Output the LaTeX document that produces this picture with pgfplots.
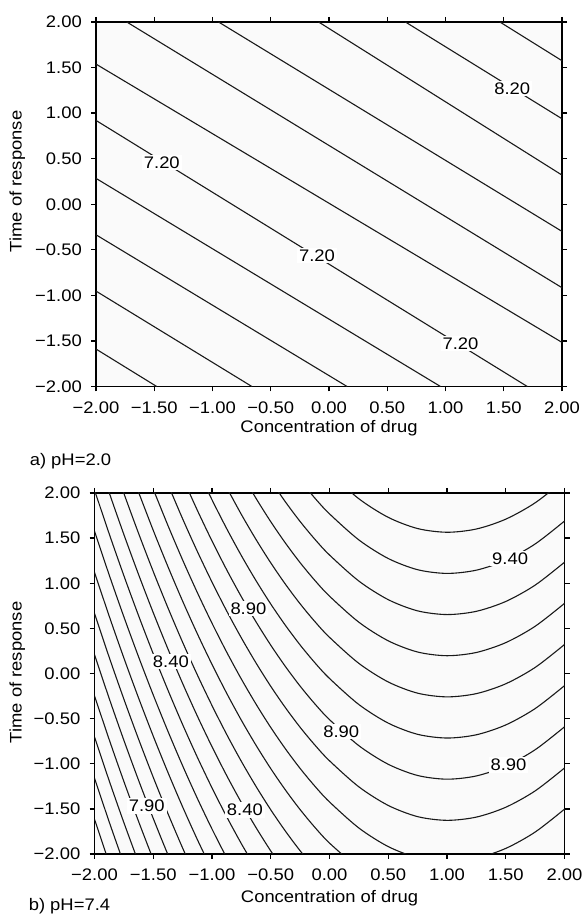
\documentclass[border=0pt]{standalone}
\usepackage{fontspec}
\setmainfont{Liberation Sans}[FakeStretch=1.1]
\usepackage{pgfplots}
\pgfplotsset{compat=1.18}
\pgfplotsset{
  cplot/.style={
    scale only axis,
    xmin=-2, xmax=2, ymin=-2, ymax=2,
    xtick={-2,-1.5,-1,-0.5,0,0.5,1,1.5,2},
    ytick={-2,-1.5,-1,-0.5,0,0.5,1,1.5,2},
    xticklabels={−2.00,−1.50,−1.00,−0.50,0.00,0.50,1.00,1.50,2.00},
    yticklabels={−2.00,−1.50,−1.00,−0.50,0.00,0.50,1.00,1.50,2.00},
    tick align=outside,
    major tick length=5bp,
    axis line style={line width=1.7bp},
    every tick/.style={black, line width=1.3bp},
    xticklabel style={anchor=north, inner sep=0pt, yshift=-10bp},
    yticklabel style={anchor=east, inner sep=0pt, xshift=-9bp},
    tick label style={font=\fontsize{16.8}{19}\selectfont},
    axis background/.style={fill=black!2},
  },
  cline/.style={black!90, line width=1.1bp, smooth, tension=0.5, mark=none},
}
\tikzset{clab/.style={fill=white, inner sep=1.8bp, font=\fontsize{16.8}{19}\selectfont}}
\begin{document}
\fontsize{16.8}{19}\selectfont
\begin{tikzpicture}
\path[use as bounding box] (0,0) rectangle (585bp,921bp);

% ---------------- a) pH = 2.0 ----------------
\begin{axis}[cplot, at={(96bp,534.5bp)}, anchor=south west, width=466bp, height=364.5bp]
\addplot[cline] coordinates {(1.467,2) (2,1.575)};
\addplot[cline] coordinates {(0.656,2) (2,0.938)};
\addplot[cline] coordinates {(-0.089,2) (2,0.320)};
\addplot[cline] coordinates {(-0.948,2) (2,-0.298)};
\addplot[cline] coordinates {(-1.736,2) (2,-0.916)};
\addplot[cline] coordinates {(-2,1.538) (2,-1.516)};
\addplot[cline] coordinates {(-2,0.920) (1.702,-2)};
\addplot[cline] coordinates {(-2,0.284) (0.957,-2)};
\addplot[cline] coordinates {(-2,-0.335) (0.155,-2)};
\addplot[cline] coordinates {(-2,-0.953) (-0.662,-2)};
\addplot[cline] coordinates {(-2,-1.589) (-1.479,-2)};
\node[clab] at (axis cs:-1.435,0.46) {7.20};
\node[clab] at (axis cs:-0.103,-0.565) {7.20};
\node[clab] at (axis cs:1.129,-1.53) {7.20};
\node[clab] at (axis cs:1.573,1.27) {8.20};
\end{axis}
\node[anchor=base] at (329bp,488bp) {Concentration of drug};
\node[anchor=base west] at (24bp,455bp) {a) pH=2.0};
\node[rotate=90, anchor=base] at (21.5bp,739.5bp) {Time of response};

% ---------------- b) pH = 7.4 ----------------
\begin{axis}[cplot, at={(94.5bp,67bp)}, anchor=south west, width=470bp, height=361bp]
\addplot[cline] coordinates {(0,2.225) (0.25,1.936) (0.5,1.730) (0.75,1.606) (1,1.565) (1.25,1.601) (1.5,1.710) (1.75,1.891) (2,2.145)};
\addplot[cline] coordinates {(-0.25,2.140) (-0.125,1.944) (0,1.769) (0.25,1.480) (0.5,1.274) (0.75,1.150) (1,1.109) (1.25,1.145) (1.5,1.254) (1.75,1.435) (2,1.689)};
\addplot[cline] coordinates {(-0.5,2.138) (-0.375,1.901) (-0.25,1.684) (-0.125,1.488) (0,1.313) (0.25,1.024) (0.5,0.818) (0.75,0.694) (1,0.653) (1.25,0.689) (1.5,0.798) (1.75,0.979) (2,1.233)};
\addplot[cline] coordinates {(-0.75,2.218) (-0.625,1.940) (-0.5,1.682) (-0.375,1.445) (-0.25,1.228) (-0.125,1.032) (0,0.857) (0.25,0.568) (0.5,0.362) (0.75,0.238) (1,0.197) (1.25,0.233) (1.5,0.342) (1.75,0.523) (2,0.777)};
\addplot[cline] coordinates {(-0.875,2.061) (-0.75,1.762) (-0.625,1.484) (-0.5,1.226) (-0.375,0.989) (-0.25,0.772) (-0.125,0.576) (0,0.401) (0.25,0.112) (0.5,-0.094) (0.75,-0.218) (1,-0.259) (1.25,-0.223) (1.5,-0.114) (1.75,0.067) (2,0.321)};
\addplot[cline] coordinates {(-1.125,2.265) (-1,1.925) (-0.875,1.605) (-0.75,1.306) (-0.625,1.028) (-0.5,0.770) (-0.375,0.533) (-0.25,0.316) (-0.125,0.120) (0,-0.055) (0.25,-0.344) (0.5,-0.550) (0.75,-0.674) (1,-0.715) (1.25,-0.679) (1.5,-0.570) (1.75,-0.389) (2,-0.135)};
\addplot[cline] coordinates {(-1.25,2.170) (-1.125,1.809) (-1,1.469) (-0.875,1.149) (-0.75,0.850) (-0.625,0.572) (-0.5,0.314) (-0.375,0.077) (-0.25,-0.140) (-0.125,-0.336) (0,-0.511) (0.25,-0.800) (0.5,-1.006) (0.75,-1.130) (1,-1.171) (1.25,-1.135) (1.5,-1.026) (1.75,-0.845) (2,-0.591)};
\addplot[cline] coordinates {(-1.375,2.096) (-1.25,1.714) (-1.125,1.353) (-1,1.013) (-0.875,0.693) (-0.75,0.394) (-0.625,0.116) (-0.5,-0.142) (-0.375,-0.379) (-0.25,-0.596) (-0.125,-0.792) (0,-0.967) (0.25,-1.256) (0.5,-1.462) (0.75,-1.586) (1,-1.627) (1.25,-1.591) (1.5,-1.482) (1.75,-1.301) (2,-1.047)};
\addplot[cline] coordinates {(-1.5,2.042) (-1.375,1.640) (-1.25,1.258) (-1.125,0.897) (-1,0.557) (-0.875,0.237) (-0.75,-0.062) (-0.625,-0.340) (-0.5,-0.598) (-0.375,-0.835) (-0.25,-1.052) (-0.125,-1.248) (0,-1.423) (0.25,-1.712) (0.5,-1.918) (0.75,-2.042) (1,-2.083) (1.25,-2.047) (1.5,-1.938) (1.75,-1.757) (2,-1.503)};
\addplot[cline] coordinates {(-1.625,2.009) (-1.5,1.586) (-1.375,1.184) (-1.25,0.802) (-1.125,0.441) (-1,0.101) (-0.875,-0.219) (-0.75,-0.518) (-0.625,-0.796) (-0.5,-1.054) (-0.375,-1.291) (-0.25,-1.508) (-0.125,-1.704) (0,-1.879) (0.25,-2.168)};
\addplot[cline] coordinates {(-1.875,2.460) (-1.75,1.996) (-1.625,1.553) (-1.5,1.130) (-1.375,0.728) (-1.25,0.346) (-1.125,-0.015) (-1,-0.355) (-0.875,-0.675) (-0.75,-0.974) (-0.625,-1.252) (-0.5,-1.510) (-0.375,-1.747) (-0.25,-1.964) (-0.125,-2.160)};
\addplot[cline] coordinates {(-2,2.489) (-1.875,2.004) (-1.75,1.540) (-1.625,1.097) (-1.5,0.674) (-1.375,0.272) (-1.25,-0.110) (-1.125,-0.471) (-1,-0.811) (-0.875,-1.131) (-0.75,-1.430) (-0.625,-1.708) (-0.5,-1.966) (-0.375,-2.203)};
\addplot[cline] coordinates {(-2,2.033) (-1.875,1.548) (-1.75,1.084) (-1.625,0.641) (-1.5,0.218) (-1.375,-0.184) (-1.25,-0.566) (-1.125,-0.927) (-1,-1.267) (-0.875,-1.587) (-0.75,-1.886) (-0.625,-2.164)};
\addplot[cline] coordinates {(-2,1.577) (-1.875,1.092) (-1.75,0.628) (-1.625,0.185) (-1.5,-0.238) (-1.375,-0.640) (-1.25,-1.022) (-1.125,-1.383) (-1,-1.723) (-0.875,-2.043)};
\addplot[cline] coordinates {(-2,1.121) (-1.875,0.636) (-1.75,0.172) (-1.625,-0.271) (-1.5,-0.694) (-1.375,-1.096) (-1.25,-1.478) (-1.125,-1.839) (-1,-2.179)};
\addplot[cline] coordinates {(-2,0.665) (-1.875,0.180) (-1.75,-0.284) (-1.625,-0.727) (-1.5,-1.150) (-1.375,-1.552) (-1.25,-1.934) (-1.125,-2.295)};
\addplot[cline] coordinates {(-2,0.209) (-1.875,-0.276) (-1.75,-0.740) (-1.625,-1.183) (-1.5,-1.606) (-1.375,-2.008) (-1.25,-2.390)};
\addplot[cline] coordinates {(-2,-0.247) (-1.875,-0.732) (-1.75,-1.196) (-1.625,-1.639) (-1.5,-2.062)};
\addplot[cline] coordinates {(-2,-0.703) (-1.875,-1.188) (-1.75,-1.652) (-1.625,-2.095)};
\addplot[cline] coordinates {(-2,-1.159) (-1.875,-1.644) (-1.75,-2.108)};
\addplot[cline] coordinates {(-2,-1.615) (-1.875,-2.100)};
\node[clab] at (axis cs:1.537,1.272) {9.40};
\node[clab] at (axis cs:-0.69,0.718) {8.90};
\node[clab] at (axis cs:-1.35,0.135) {8.40};
\node[clab] at (axis cs:0.10,-0.645) {8.90};
\node[clab] at (axis cs:1.523,-1.012) {8.90};
\node[clab] at (axis cs:-1.555,-1.47) {7.90};
\node[clab] at (axis cs:-0.72,-1.51) {8.40};
\end{axis}
\node[anchor=base] at (329.5bp,19bp) {Concentration of drug};
\node[anchor=base west] at (23bp,11bp) {b) pH=7.4};
\node[rotate=90, anchor=base] at (21.5bp,248.5bp) {Time of response};
\end{tikzpicture}
\end{document}
